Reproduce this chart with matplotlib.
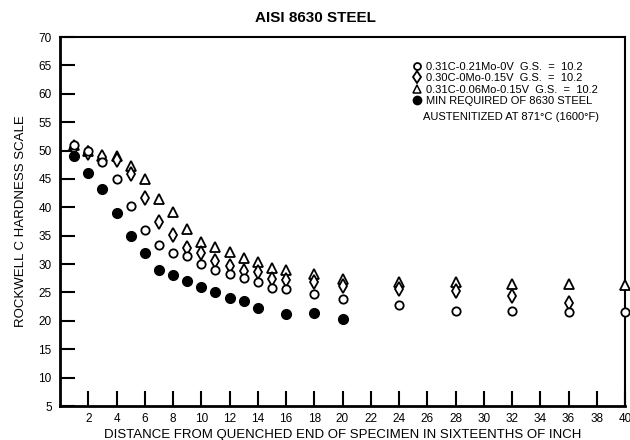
import matplotlib
matplotlib.use("Agg")
import matplotlib.pyplot as plt
from matplotlib.lines import Line2D

plt.rcParams['font.family'] = ['Liberation Sans', 'DejaVu Sans']

# distances (sixteenths of inch)
x_steel = [1, 2, 3, 4, 5, 6, 7, 8, 9, 10, 11, 12, 13, 14, 15, 16, 18, 20, 24, 28, 32, 36, 40]
circle_vals = [51, 50, 48, 45, 40.3, 36, 33.4, 32, 31.5, 30, 29, 28.3, 27.6, 26.9, 25.8, 25.6,
               24.8, 23.9, 22.8, 21.8, 21.8, 21.6, 21.6]
x_diamond = [1, 2, 3, 4, 5, 6, 7, 8, 9, 10, 11, 12, 13, 14, 15, 16, 18, 20, 24, 28, 32, 36]
diamond_vals = [50.5, 49.5, 48.8, 48.4, 45.8, 41.6, 37.5, 35.2, 32.9, 31.9, 30.6, 29.7, 28.8,
                28.6, 27.4, 27.2, 26.9, 26.2, 25.6, 25.3, 24.4, 23.2]
triangle_vals = [51, 50, 49, 49, 47.2, 45, 41.4, 39.2, 36.2, 33.9, 33, 32.2, 31.1, 30.4, 29.3,
                 29, 28.3, 27.4, 26.9, 26.9, 26.5, 26.5, 26.3]
x_min = [1, 2, 3, 4, 5, 6, 7, 8, 9, 10, 11, 12, 13, 14, 16, 18, 20]
min_vals = [49, 46, 43.2, 39, 35, 32, 29, 28, 27.1, 26, 25.1, 24.1, 23.5, 22.3, 21.2, 21.4, 20.3]

labels = ["0.31C-0.21Mo-0V  G.S.  =  10.2",
          "0.30C-0Mo-0.15V  G.S.  =  10.2",
          "0.31C-0.06Mo-0.15V  G.S.  =  10.2",
          "MIN REQUIRED OF 8630 STEEL"]
x_ticks = list(range(2, 41, 2))
y_ticks = list(range(5, 71, 5))

fig = plt.figure(figsize=(6.3, 4.4), dpi=100)
ax = fig.add_axes([60 / 630, 1 - 406 / 440, 565 / 630, 369 / 440])

ax.plot(x_steel, triangle_vals, linestyle='none', marker='^', markersize=7,
        markerfacecolor='white', markeredgecolor='black', markeredgewidth=1.3, clip_on=False, zorder=3)
ax.plot(x_diamond, diamond_vals, linestyle='none', marker='d', markersize=7,
        markerfacecolor='white', markeredgecolor='black', markeredgewidth=1.3, clip_on=False, zorder=4)
ax.plot(x_steel, circle_vals, linestyle='none', marker='o', markersize=6,
        markerfacecolor='white', markeredgecolor='black', markeredgewidth=1.3, clip_on=False, zorder=5)
ax.plot(x_min, min_vals, linestyle='none', marker='o', markersize=7,
        color='black', clip_on=False, zorder=6)

ax.set_xlim(0, 40)
ax.set_ylim(5, 70)
ax.set_xticks(x_ticks)
ax.set_yticks(y_ticks)
ax.tick_params(axis='both', direction='in', length=11, width=1.5, labelsize=8.5)
ax.tick_params(axis='y', pad=6)
ax.tick_params(axis='x', pad=5)
for s in ax.spines.values():
    s.set_linewidth(1.5)
ax.spines['left'].set_linewidth(2)
ax.spines['bottom'].set_linewidth(2)

ax.set_xlabel("DISTANCE FROM QUENCHED END OF SPECIMEN IN SIXTEENTHS OF INCH", fontsize=9.5, labelpad=3)
ax.set_ylabel("ROCKWELL C HARDNESS SCALE", fontsize=9.5, labelpad=8)
fig.text(315 / 630, 1 - 18 / 440, "AISI 8630 STEEL", fontsize=11, fontweight='bold',
         ha='center', va='center')

handles = [
    Line2D([], [], linestyle='none', marker='o', markersize=5, markerfacecolor='white',
           markeredgecolor='black', markeredgewidth=1.3),
    Line2D([], [], linestyle='none', marker='d', markersize=6, markerfacecolor='white',
           markeredgecolor='black', markeredgewidth=1.3),
    Line2D([], [], linestyle='none', marker='^', markersize=6, markerfacecolor='white',
           markeredgecolor='black', markeredgewidth=1.1),
    Line2D([], [], linestyle='none', marker='o', markersize=6, color='black'),
]
ax.legend(handles, labels, loc='upper left', bbox_to_anchor=(413 / 630, 1 - 62 / 440),
          bbox_transform=fig.transFigure, frameon=False, fontsize=8, handlelength=0.8,
          handletextpad=0.35, labelspacing=0.12, borderaxespad=0.0, borderpad=0.0)
fig.text(423 / 630, 1 - 117 / 440, "AUSTENITIZED AT 871°C (1600°F)", fontsize=8,
         ha='left', va='center')

fig.savefig("out.png", dpi=100)
